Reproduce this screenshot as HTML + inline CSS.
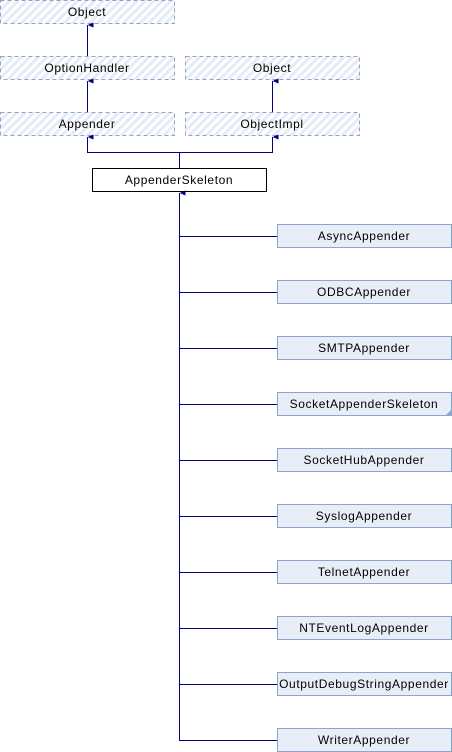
<!DOCTYPE html>
<html><head><style>body{margin:0;background:#fff}svg{display:block}text{letter-spacing:0.6px}</style></head><body>
<svg width="452" height="752" xmlns="http://www.w3.org/2000/svg" font-family="Liberation Sans, sans-serif" font-size="12">
<defs>
<pattern id="h" width="6" height="6" patternUnits="userSpaceOnUse" patternTransform="rotate(45)">
<rect width="6" height="6" fill="#fff"/><rect width="3" height="6" fill="#e6ebf4"/></pattern>
<marker id="a" markerWidth="8" markerHeight="8" refX="3.5" refY="0" orient="auto" markerUnits="userSpaceOnUse"><path d="M1,6 L3.5,0 L6,6 Z" fill="#000080"/></marker>
</defs>
<g stroke="#8ca4d0" stroke-dasharray="4,3" fill="url(#h)">
<rect x="0.5" y="0.5" width="174" height="23"/>
<rect x="0.5" y="56.5" width="174" height="23"/>
<rect x="185.5" y="56.5" width="174" height="23"/>
<rect x="0.5" y="112.5" width="174" height="23"/>
<rect x="185.5" y="112.5" width="174" height="23"/>
</g>
<rect x="92.5" y="168.5" width="174" height="23" fill="#fff" stroke="#000"/>
<g text-anchor="middle" fill="#000">
<text x="87" y="16">Object</text>
<text x="87" y="72">OptionHandler</text>
<text x="272" y="72">Object</text>
<text x="87" y="128">Appender</text>
<text x="272" y="128">ObjectImpl</text>
<text x="179" y="184">AppenderSkeleton</text>
</g>
<g stroke="#000080" fill="none" stroke-width="1">
<line x1="87.5" y1="56" x2="87.5" y2="25" marker-end="url(#a)"/>
<line x1="87.5" y1="112" x2="87.5" y2="81" marker-end="url(#a)"/>
<line x1="272.5" y1="112" x2="272.5" y2="81" marker-end="url(#a)"/>
<line x1="87.5" y1="152.5" x2="87.5" y2="137" marker-end="url(#a)"/>
<line x1="272.5" y1="152.5" x2="272.5" y2="137" marker-end="url(#a)"/>
<line x1="87" y1="152.5" x2="273" y2="152.5"/>
<line x1="179.5" y1="152" x2="179.5" y2="168"/>
<line x1="179.5" y1="740" x2="179.5" y2="193" marker-end="url(#a)"/>
</g>
<g>
<g stroke="#000080"><line x1="179" y1="236.5" x2="277" y2="236.5"/><line x1="179" y1="292.5" x2="277" y2="292.5"/><line x1="179" y1="348.5" x2="277" y2="348.5"/><line x1="179" y1="404.5" x2="277" y2="404.5"/><line x1="179" y1="460.5" x2="277" y2="460.5"/><line x1="179" y1="516.5" x2="277" y2="516.5"/><line x1="179" y1="572.5" x2="277" y2="572.5"/><line x1="179" y1="628.5" x2="277" y2="628.5"/><line x1="179" y1="684.5" x2="277" y2="684.5"/><line x1="179" y1="740.5" x2="277" y2="740.5"/></g>
<g fill="#e8eef7" stroke="#8ca4d0">
<rect x="277.5" y="224.5" width="174" height="23"/><rect x="277.5" y="280.5" width="174" height="23"/><rect x="277.5" y="336.5" width="174" height="23"/><rect x="277.5" y="392.5" width="174" height="23"/><rect x="277.5" y="448.5" width="174" height="23"/><rect x="277.5" y="504.5" width="174" height="23"/><rect x="277.5" y="560.5" width="174" height="23"/><rect x="277.5" y="616.5" width="174" height="23"/><rect x="277.5" y="672.5" width="174" height="23"/><rect x="277.5" y="728.5" width="174" height="23"/>
</g>
<path d="M451,410 L451,415 L446,415 Z" fill="#8ca4d0"/>
<g text-anchor="middle" fill="#000">
<text x="364" y="240">AsyncAppender</text>
<text x="364" y="296">ODBCAppender</text>
<text x="364" y="352">SMTPAppender</text>
<text x="364" y="408">SocketAppenderSkeleton</text>
<text x="364" y="464">SocketHubAppender</text>
<text x="364" y="520">SyslogAppender</text>
<text x="364" y="576">TelnetAppender</text>
<text x="364" y="632">NTEventLogAppender</text>
<text x="364" y="688">OutputDebugStringAppender</text>
<text x="364" y="744">WriterAppender</text>
</g>
</g>
</svg>
</body></html>
